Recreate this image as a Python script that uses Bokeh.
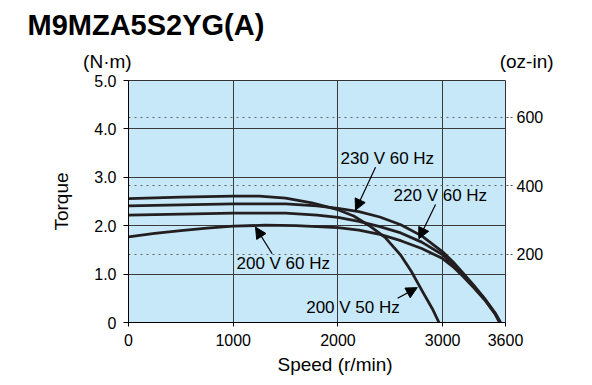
from bokeh.plotting import figure
from bokeh.models import (Range1d, LinearAxis, FixedTicker, Grid, Label, Arrow, NormalHead, Title)
from bokeh.embed import file_html
from bokeh.resources import INLINE

# ---- data ----
title_text = "M9MZA5S2YG(A)"
x_label = "Speed (r/min)"
y_label = "Torque"
y_unit_left = "(N·m)"
y_unit_right = "(oz-in)"
x_ticks = [0, 1000, 2000, 3000, 3600]
y_ticks = [0, 1, 2, 3, 4, 5]
y_tick_labels = ["0", "1.0", "2.0", "3.0", "4.0", "5.0"]
oz_ticks = [200, 400, 600]
NM_TO_OZIN = 141.612

speed_50 = [0, 250, 500, 750, 1000, 1250, 1500, 1750, 2000, 2150, 2300, 2450, 2600, 2700, 2800, 2900, 2965]
torque_50 = [2.56, 2.575, 2.59, 2.60, 2.61, 2.61, 2.57, 2.47, 2.33, 2.20, 2.00, 1.76, 1.39, 1.06, 0.67, 0.29, 0.0]

speed_230 = [0, 500, 1000, 1500, 1800, 2000, 2200, 2400, 2600, 2800, 3000, 3100, 3200, 3300, 3400, 3500, 3553]
torque_230 = [2.41, 2.43, 2.45, 2.45, 2.41, 2.36, 2.29, 2.18, 2.02, 1.79, 1.46, 1.25, 1.01, 0.76, 0.50, 0.20, 0.0]

speed_220 = [0, 500, 1000, 1500, 1800, 2000, 2200, 2400, 2600, 2800, 3000, 3100, 3200, 3300, 3400, 3500, 3548]
torque_220 = [2.22, 2.24, 2.26, 2.26, 2.22, 2.17, 2.09, 1.98, 1.85, 1.66, 1.40, 1.20, 0.97, 0.73, 0.48, 0.19, 0.0]

speed_200 = [0, 250, 500, 750, 1000, 1300, 1600, 1800, 2000, 2200, 2400, 2600, 2800, 3000, 3100, 3200, 3300, 3400, 3500, 3543]
torque_200 = [1.77, 1.84, 1.90, 1.95, 1.99, 2.01, 2.00, 1.98, 1.96, 1.91, 1.82, 1.69, 1.53, 1.32, 1.15, 0.94, 0.71, 0.47, 0.18, 0.0]

curve_labels = ["230 V 60 Hz", "220 V 60 Hz", "200 V 60 Hz", "200 V 50 Hz"]
label_pos = [(2025, 3.38), (2531, 2.62), (1031, 1.21), (1697, 0.32)]
arrow_from = [(2359, 3.21), (2932, 2.44), (1372, 1.42), (2570, 0.50)]
arrow_to = [(2168, 2.32), (2773, 1.73), (1213, 1.97), (2757, 0.72)]

FONT = "Liberation Sans"
INK = "#231f20"
NB = "\u00a0" * 8

p = figure(title=None, frame_width=377, frame_height=242,
           min_border_left=128, min_border_right=87,
           min_border_top=80, min_border_bottom=63,
           x_range=Range1d(0, 3600), y_range=Range1d(0, 5),
           output_backend="svg", toolbar_location=None,
           background_fill_color="#c7e8f8", border_fill_color="white",
           outline_line_color="#333333", outline_line_width=1)

p.extra_y_ranges = {"oz": Range1d(0, 5 * NM_TO_OZIN)}

# main axes
p.xaxis.ticker = FixedTicker(ticks=x_ticks)
p.yaxis.ticker = FixedTicker(ticks=y_ticks)
p.yaxis.major_label_overrides = {t: l for t, l in zip(y_ticks, y_tick_labels)}
for ax in (p.xaxis[0], p.yaxis[0]):
    ax.minor_tick_line_color = None
    ax.major_tick_in = 0
    ax.major_tick_line_color = "black"
    ax.axis_line_color = "black"
    ax.major_label_text_font = FONT
    ax.major_label_text_font_size = "16px"
    ax.major_label_text_color = "black"
p.xaxis.major_tick_out = 4
p.xaxis.major_label_standoff = 7
p.yaxis.major_tick_out = 5
p.yaxis.major_label_standoff = 7
p.yaxis.axis_label = y_label
p.yaxis.axis_label_text_font = FONT
p.yaxis.axis_label_text_font_size = "19px"
p.yaxis.axis_label_text_font_style = "normal"
p.yaxis.axis_label_text_color = "black"
p.yaxis.axis_label_standoff = 19

oz_axis = LinearAxis(y_range_name="oz", ticker=FixedTicker(ticks=oz_ticks))
oz_axis.minor_tick_line_color = None
oz_axis.major_tick_in = 0
oz_axis.major_tick_out = 7
oz_axis.major_tick_line_color = "#555555"
oz_axis.major_tick_line_dash = "2 2"
oz_axis.axis_line_color = None
oz_axis.major_label_standoff = 4
oz_axis.major_label_text_font = FONT
oz_axis.major_label_text_font_size = "16px"
oz_axis.major_label_text_color = "black"
p.add_layout(oz_axis, "right")

# unit captions above the two torque scales (labels of an unlined top axis)
unit_axis = LinearAxis(ticker=FixedTicker(ticks=[0, 3600]),
                       major_label_overrides={0: y_unit_left + NB, 3600: NB + y_unit_right})
unit_axis.minor_tick_line_color = None
unit_axis.major_tick_line_color = None
unit_axis.major_tick_in = 0
unit_axis.major_tick_out = 0
unit_axis.axis_line_color = None
unit_axis.major_label_standoff = 9
unit_axis.major_label_text_font = FONT
unit_axis.major_label_text_font_size = "19px"
unit_axis.major_label_text_color = "black"
p.add_layout(unit_axis, "above")

# chart title (top-left) and x-axis title (bottom)
p.add_layout(Title(text=title_text, align="left", offset=-101, standoff=13,
                   text_font=FONT, text_font_size="29px", text_font_style="bold",
                   text_color="black"), "above")
p.add_layout(Title(text=x_label, align="left", offset=149, standoff=7,
                   text_font=FONT, text_font_size="19px", text_font_style="normal",
                   text_color="black"), "below")

# grids
p.xgrid.ticker = FixedTicker(ticks=x_ticks)
p.ygrid.ticker = FixedTicker(ticks=y_ticks)
for g in (p.xgrid[0], p.ygrid[0]):
    g.grid_line_color = "#3a3a3a"
    g.grid_line_width = 1
    g.grid_line_alpha = 1.0
p.add_layout(Grid(dimension=1, ticker=FixedTicker(ticks=oz_ticks), y_range_name="oz",
                  grid_line_color="#666666", grid_line_dash="2 4", grid_line_width=1))

# curves
for sx, ty in [(speed_50, torque_50), (speed_230, torque_230),
               (speed_220, torque_220), (speed_200, torque_200)]:
    p.line(sx, ty, line_color=INK, line_width=2.8, line_join="round")

# curve labels and arrows
for txt, (lx, ly) in zip(curve_labels, label_pos):
    p.add_layout(Label(x=lx, y=ly, text=txt, text_font=FONT, text_font_size="17px",
                       text_color="black", text_align="left", text_baseline="middle"))
for (x0, y0), (x1, y1) in zip(arrow_from, arrow_to):
    p.add_layout(Arrow(x_start=x0, y_start=y0, x_end=x1, y_end=y1, line_color="black",
                       line_width=1.2,
                       end=NormalHead(size=11, fill_color="black", line_color="black", line_width=1)))

open("out.html", "w").write(file_html(p, INLINE))
